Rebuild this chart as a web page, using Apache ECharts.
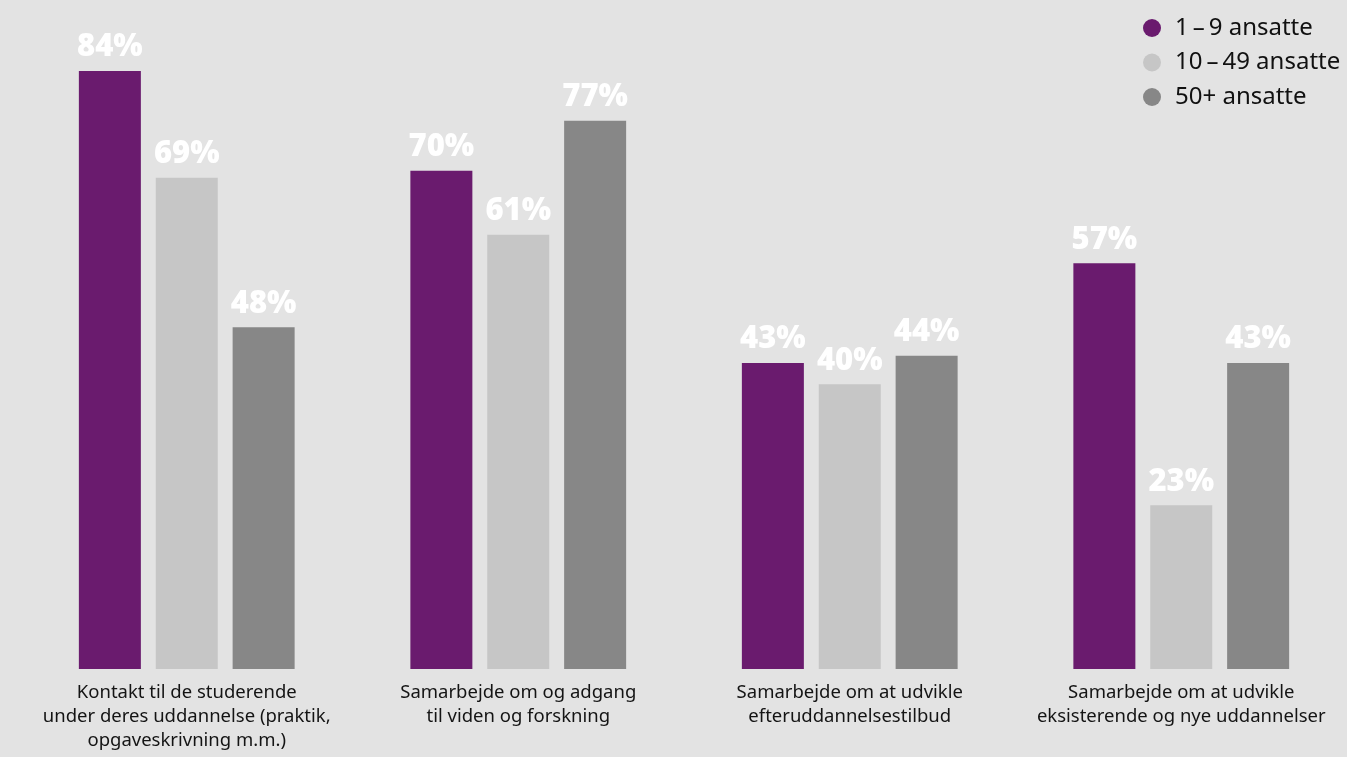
<!DOCTYPE html>
<html>
<head>
<meta charset="utf-8">
<style>
  html, body { margin: 0; padding: 0; background: #e3e3e3; }
  #chart { width: 1347px; height: 757px; }
</style>
<script src="https://cdn.jsdelivr.net/npm/echarts@6/dist/echarts.min.js"></script>
</head>
<body>
<div id="chart"></div>
<script>
// Categories of collaboration
const categories = [
  'Kontakt til de studerende\nunder deres uddannelse (praktik,\nopgaveskrivning m.m.)',
  'Samarbejde om og adgang\ntil viden og forskning',
  'Samarbejde om at udvikle\nefteruddannelsestilbud',
  'Samarbejde om at udvikle\neksisterende og nye uddannelser'
];

// Share of companies (%) by company size
const seriesNames = ['1\u2009\u2013\u20099 ansatte', '10\u2009\u2013\u200949 ansatte', '50+ ansatte'];
const small = [84, 70, 43, 57];
const medium = [69, 61, 40, 23];
const large = [48, 77, 44, 43];

const colors = ['#6a1b6e', '#c6c6c6', '#878787'];

const chart = echarts.init(document.getElementById('chart'));

const labelStyle = {
  show: true,
  position: 'top',
  distance: 8,
  formatter: '{c}%',
  color: '#ffffff',
  fontFamily: 'Open Sans',
  fontWeight: 800,
  fontSize: 31
};

function makeSeries(name, data, color) {
  return {
    name: name,
    type: 'bar',
    data: data,
    barWidth: 62,
    barGap: '24%',
    itemStyle: { color: color },
    label: labelStyle
  };
}

chart.setOption({
  backgroundColor: '#e3e3e3',
  animation: false,
  grid: { left: 21, right: 0, top: 71, bottom: 88 },
  legend: {
    orient: 'vertical',
    left: 1138,
    top: 11,
    icon: 'circle',
    itemWidth: 18,
    itemHeight: 18,
    itemGap: 10.5,
    textStyle: { fontFamily: 'Noto Sans', fontSize: 24, color: '#111111', padding: [0, 0, 0, 9] },
    data: seriesNames
  },
  xAxis: {
    type: 'category',
    data: categories,
    axisLine: { show: false },
    axisTick: { show: false },
    axisLabel: {
      interval: 0,
      margin: 12,
      fontFamily: 'Noto Sans',
      fontSize: 18.5,
      lineHeight: 24,
      color: '#141414',
      align: 'center'
    }
  },
  yAxis: {
    type: 'value',
    min: 0,
    max: 84,
    show: false,
    splitLine: { show: false }
  },
  series: [
    makeSeries(seriesNames[0], small, colors[0]),
    makeSeries(seriesNames[1], medium, colors[1]),
    makeSeries(seriesNames[2], large, colors[2])
  ]
});
</script>
</body>
</html>
